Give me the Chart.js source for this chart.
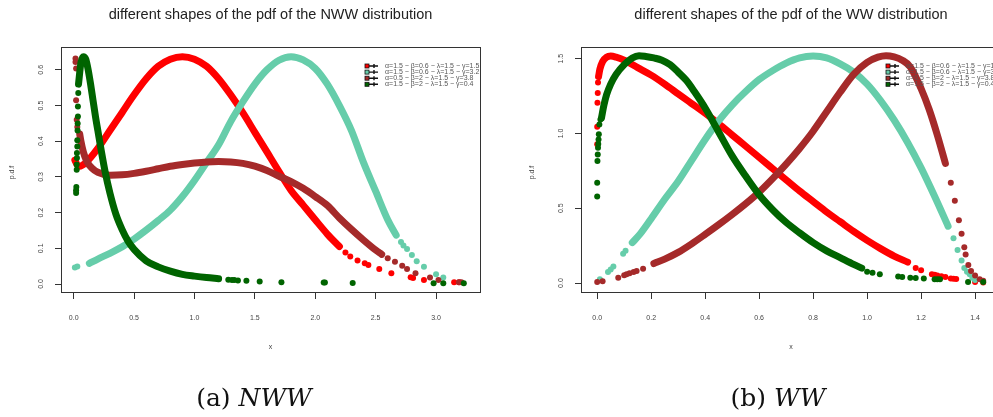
<!DOCTYPE html>
<html>
<head>
<meta charset="utf-8">
<script src="https://cdn.jsdelivr.net/npm/chart.js@4.4.0/dist/chart.umd.min.js"></script>
<style>
  html, body { margin: 0; padding: 0; background: #fff; overflow: hidden; }
  #page { position: relative; width: 993px; height: 417px; overflow: hidden; background: #fff; }
  #nww { position: absolute; left: 0; top: 0; }
  #ww { position: absolute; left: 500px; top: 0; }
  .caption { position: absolute; top: 383px; font-family: "DejaVu Serif", serif; font-size: 25px; color: #111; transform: translateX(-50%); white-space: nowrap; }
</style>
</head>
<body>
<div id="page">
  <canvas id="nww" width="500" height="417"></canvas>
  <canvas id="ww" width="520" height="417"></canvas>
  <div class="caption" style="left:254px">(a) <i>NWW</i></div>
  <div class="caption" style="left:778px">(b) <i>WW</i></div>
</div>
<script>
// series colours, same order as the legend rows
const seriesColors = ['#FF0000', '#66CDAA', '#A52A2A', '#006400'];
const legendLabels = [
  'α=1.5 − β=0.6 − λ=1.5 − γ=1.5',
  'α=1.5 − β=0.6 − λ=1.5 − γ=3.2',
  'α=0.5 − β=2 − λ=1.5 − γ=3.8',
  'α=1.5 − β=2 − λ=1.5 − γ=0.4'
];

// ---- panel (a) NWW ----
const nwwXLabels = ['0.0', '0.5', '1.0', '1.5', '2.0', '2.5', '3.0'];
const nwwYLabels = ['0.0', '0.1', '0.2', '0.3', '0.4', '0.5', '0.6'];

const nwwRedBand = [[0.01,0.347],[0.03,0.333],[0.05,0.330],[0.1,0.340],[0.2,0.380],[0.3,0.430],[0.4,0.480],[0.5,0.530],[0.6,0.575],[0.7,0.610],[0.8,0.630],[0.9,0.637],[1.0,0.630],[1.1,0.610],[1.2,0.575],[1.3,0.530],[1.4,0.480],[1.5,0.425],[1.6,0.370],[1.7,0.315],[1.8,0.262],[1.9,0.221],[2.0,0.180],[2.1,0.140],[2.2,0.105]];
const nwwRedDots = [[2.25,0.088],[2.29,0.077],[2.35,0.066],[2.41,0.058],[2.44,0.053],[2.53,0.042],[2.63,0.030],[2.79,0.019],[2.81,0.017],[2.90,0.011],[3.15,0.005],[3.19,0.005]];

const nwwTealBand = [[0.13,0.058],[0.2,0.070],[0.3,0.086],[0.4,0.104],[0.5,0.126],[0.6,0.151],[0.7,0.178],[0.8,0.207],[0.9,0.245],[1.0,0.290],[1.1,0.340],[1.2,0.390],[1.3,0.455],[1.4,0.510],[1.5,0.560],[1.6,0.600],[1.7,0.627],[1.8,0.637],[1.9,0.628],[2.0,0.604],[2.1,0.560],[2.2,0.500],[2.3,0.430],[2.4,0.340],[2.5,0.260],[2.6,0.180],[2.67,0.137]];
const nwwTealDots = [[0.01,0.046],[0.03,0.049],[2.71,0.118],[2.73,0.108],[2.76,0.098],[2.80,0.081],[2.84,0.064],[2.90,0.048],[3.00,0.027],[3.06,0.018]];

const nwwBrownBand = [[0.05,0.420],[0.06,0.400],[0.08,0.370],[0.11,0.343],[0.15,0.325],[0.2,0.313],[0.3,0.305],[0.4,0.306],[0.5,0.310],[0.6,0.316],[0.7,0.323],[0.8,0.330],[0.9,0.335],[1.0,0.339],[1.1,0.342],[1.2,0.343],[1.3,0.342],[1.4,0.338],[1.5,0.330],[1.6,0.318],[1.7,0.302],[1.8,0.287],[1.9,0.268],[2.0,0.245],[2.1,0.220],[2.2,0.185],[2.3,0.153],[2.4,0.123],[2.5,0.095],[2.55,0.083]];
const nwwBrownDots = [[0.015,0.632],[0.015,0.622],[0.02,0.604],[0.02,0.515],[0.025,0.46],[0.03,0.44],[2.60,0.072],[2.66,0.062],[2.72,0.051],[2.76,0.042],[2.83,0.030],[2.95,0.018],[3.02,0.011],[3.19,0.005],[3.21,0.005]];

const nwwGreenBand = [[0.04,0.560],[0.06,0.620],[0.08,0.637],[0.1,0.630],[0.12,0.600],[0.14,0.560],[0.16,0.515],[0.18,0.470],[0.2,0.430],[0.23,0.370],[0.26,0.315],[0.3,0.255],[0.35,0.195],[0.4,0.153],[0.45,0.120],[0.5,0.097],[0.6,0.065],[0.7,0.048],[0.8,0.036],[0.9,0.027],[1.0,0.022],[1.1,0.018],[1.2,0.015]];
const nwwGreenDots = [[0.02,0.255],[0.02,0.263],[0.022,0.272],[0.025,0.32],[0.025,0.335],[0.027,0.353],[0.027,0.367],[0.03,0.385],[0.03,0.403],[0.032,0.43],[0.033,0.45],[0.035,0.469],[0.035,0.497],[0.038,0.535],[1.28,0.012],[1.31,0.011],[1.33,0.011],[1.36,0.010],[1.43,0.009],[1.54,0.007],[1.72,0.005],[2.07,0.004],[2.08,0.004],[2.31,0.003],[2.98,0.002],[3.06,0.002],[3.23,0.002]];

// ---- panel (b) WW ----
const wwXLabels = ['0.0', '0.2', '0.4', '0.6', '0.8', '1.0', '1.2', '1.4'];
const wwYLabels = ['0.0', '0.5', '1.0', '1.5'];

const wwRedBand = [[0.005,1.38],[0.01,1.43],[0.02,1.48],[0.035,1.51],[0.05,1.517],[0.07,1.51],[0.1,1.49],[0.15,1.44],[0.2,1.39],[0.25,1.33],[0.3,1.265],[0.35,1.20],[0.4,1.135],[0.45,1.065],[0.5,0.99],[0.55,0.915],[0.6,0.84],[0.65,0.765],[0.7,0.69],[0.75,0.615],[0.8,0.545],[0.85,0.475],[0.9,0.41],[0.95,0.345],[1.0,0.285],[1.05,0.23],[1.1,0.18],[1.15,0.14]];
const wwRedDots = [[0.0,0.927],[0.0,1.045],[0.001,1.205],[0.002,1.27],[0.003,1.34],[1.18,0.10],[1.20,0.085],[1.24,0.058],[1.25,0.055],[1.26,0.05],[1.275,0.045],[1.29,0.04],[1.31,0.031],[1.32,0.029],[1.33,0.027],[1.40,0.007],[1.43,0.004]];

const wwTealBand = [[0.13,0.27],[0.16,0.33],[0.2,0.43],[0.25,0.56],[0.3,0.68],[0.35,0.82],[0.4,0.96],[0.45,1.085],[0.5,1.19],[0.55,1.28],[0.6,1.36],[0.65,1.42],[0.7,1.47],[0.75,1.505],[0.8,1.517],[0.85,1.505],[0.9,1.465],[0.95,1.41],[1.0,1.33],[1.05,1.22],[1.1,1.09],[1.15,0.94],[1.2,0.77],[1.25,0.58],[1.3,0.38]];
const wwTealDots = [[0.01,0.025],[0.04,0.074],[0.05,0.09],[0.06,0.11],[0.096,0.196],[0.105,0.215],[1.32,0.30],[1.335,0.22],[1.35,0.15],[1.36,0.10],[1.37,0.075],[1.38,0.058],[1.39,0.035],[1.40,0.02]];

const wwBrownBand = [[0.21,0.13],[0.25,0.16],[0.3,0.205],[0.35,0.262],[0.4,0.325],[0.45,0.39],[0.5,0.458],[0.55,0.53],[0.6,0.608],[0.65,0.698],[0.7,0.795],[0.75,0.900],[0.8,1.015],[0.85,1.145],[0.9,1.275],[0.95,1.395],[1.0,1.475],[1.04,1.510],[1.07,1.52],[1.1,1.512],[1.13,1.49],[1.16,1.445],[1.2,1.30],[1.23,1.16],[1.26,0.99],[1.29,0.80]];
const wwBrownDots = [[0.0,0.007],[0.02,0.012],[0.078,0.036],[0.1,0.052],[0.109,0.058],[0.12,0.065],[0.135,0.073],[0.146,0.08],[0.17,0.096],[1.31,0.67],[1.325,0.55],[1.34,0.42],[1.35,0.33],[1.36,0.24],[1.365,0.19],[1.375,0.12],[1.385,0.08],[1.40,0.05],[1.417,0.025],[1.43,0.015]];

const wwGreenBand = [[0.016,1.105],[0.025,1.19],[0.035,1.26],[0.05,1.33],[0.07,1.395],[0.1,1.46],[0.13,1.505],[0.155,1.52],[0.18,1.515],[0.21,1.505],[0.24,1.49],[0.27,1.46],[0.3,1.41],[0.33,1.355],[0.36,1.28],[0.4,1.17],[0.45,1.01],[0.5,0.85],[0.55,0.715],[0.6,0.59],[0.65,0.49],[0.7,0.405],[0.75,0.335],[0.8,0.27],[0.85,0.215],[0.9,0.17],[0.95,0.125],[0.98,0.10]];
const wwGreenDots = [[0.0,0.578],[0.0,0.671],[0.001,0.816],[0.002,0.86],[0.003,0.905],[0.004,0.93],[0.005,0.96],[0.006,0.994],[0.008,1.06],[0.012,1.094],[1.0,0.075],[1.02,0.068],[1.047,0.058],[1.115,0.043],[1.13,0.041],[1.16,0.036],[1.18,0.033],[1.21,0.03],[1.25,0.025],[1.26,0.025],[1.27,0.025],[1.374,0.007],[1.43,0.007]];

const toXY = pts => pts.map(p => ({ x: p[0], y: p[1] }));

function seriesSets(bands, dots) {
  const sets = [];
  bands.forEach((band, i) => {
    // lower order is drawn on top: green over brown over teal over red
    const order = 4 - i;
    sets.push({
      data: toXY(band), showLine: true, borderColor: seriesColors[i], borderWidth: 7,
      borderCapStyle: 'round', borderJoinStyle: 'round', cubicInterpolationMode: 'monotone',
      pointRadius: 0, order: order
    });
    sets.push({
      data: toXY(dots[i]), showLine: false, pointRadius: 3, pointBorderWidth: 0,
      backgroundColor: seriesColors[i], borderColor: seriesColors[i], order: order
    });
  });
  return sets;
}

const framePlugin = {
  id: 'frame',
  afterDraw(chart, args, opts) {
    const { ctx, chartArea: a } = chart;
    const xs = chart.scales.x, ys = chart.scales.y;
    ctx.save();
    ctx.strokeStyle = '#333';
    ctx.lineWidth = 1;
    ctx.strokeRect(Math.round(a.left) + 0.5, Math.round(a.top) + 0.5, Math.round(a.width), Math.round(a.height));

    const cx = (a.left + a.right) / 2;
    ctx.fillStyle = '#222';
    ctx.textAlign = 'center';
    ctx.textBaseline = 'middle';
    ctx.font = '14.5px "Liberation Sans", Arial, sans-serif';
    ctx.fillText(opts.title, cx, 15);

    ctx.fillStyle = '#444';
    ctx.font = '7px "Liberation Sans", Arial, sans-serif';
    opts.xLabels.forEach(l => ctx.fillText(l, xs.getPixelForValue(parseFloat(l)), a.bottom + 26));
    opts.yLabels.forEach(l => {
      ctx.save();
      ctx.translate(a.left - 20, ys.getPixelForValue(parseFloat(l)));
      ctx.rotate(-Math.PI / 2);
      ctx.fillText(l, 0, 0);
      ctx.restore();
    });
    ctx.fillText('x', cx, a.bottom + 55);
    ctx.save();
    ctx.translate(a.left - 49, (a.top + a.bottom) / 2 + 3);
    ctx.rotate(-Math.PI / 2);
    ctx.fillText('p.d.f', 0, 0);
    ctx.restore();

    // legend, clipped to the plot region
    ctx.beginPath();
    ctx.rect(a.left, a.top, a.width, a.height);
    ctx.clip();
    const lx = a.right - 115;
    legendLabels.forEach((l, i) => {
      const y = 66 + i * 6.1;
      ctx.fillStyle = seriesColors[i];
      ctx.fillRect(lx, y - 2, 4, 4);
      ctx.strokeStyle = '#111';
      ctx.lineWidth = 0.8;
      ctx.strokeRect(lx, y - 2, 4, 4);
      ctx.lineWidth = 1.4;
      ctx.beginPath();
      ctx.moveTo(lx + 4, y); ctx.lineTo(lx + 13, y);
      ctx.moveTo(lx + 9, y - 2); ctx.lineTo(lx + 9, y + 2);
      ctx.stroke();
      ctx.fillStyle = '#555';
      ctx.textAlign = 'left';
      ctx.font = '7px "Liberation Sans", Arial, sans-serif';
      ctx.fillText(l, lx + 20, y);
    });
    ctx.restore();
  }
};

function makeChart(id, opts) {
  const tickVals = labels => labels.map(parseFloat);
  return new Chart(document.getElementById(id), {
    type: 'scatter',
    data: { datasets: seriesSets(opts.bands, opts.dots) },
    options: {
      responsive: false,
      animation: false,
      events: [],
      layout: { padding: { left: 0, right: opts.padRight, top: 47, bottom: 85 } },
      plugins: {
        legend: { display: false },
        tooltip: { enabled: false },
        frame: { title: opts.title, xLabels: opts.xLabels, yLabels: opts.yLabels }
      },
      scales: {
        x: {
          type: 'linear', min: opts.xMin, max: opts.xMax,
          afterFit: s => { s.height = 40; },
          afterBuildTicks: s => { s.ticks = tickVals(opts.xLabels).map(v => ({ value: v })); },
          ticks: { display: false },
          grid: { drawOnChartArea: false, drawTicks: true, tickLength: 7, color: '#333' },
          border: { display: false }
        },
        y: {
          type: 'linear', min: opts.yMin, max: opts.yMax,
          afterFit: s => { s.width = opts.yWidth; },
          afterBuildTicks: s => { s.ticks = tickVals(opts.yLabels).map(v => ({ value: v })); },
          ticks: { display: false },
          grid: { drawOnChartArea: false, drawTicks: true, tickLength: 6, color: '#333' },
          border: { display: false }
        }
      }
    },
    plugins: [framePlugin]
  });
}

makeChart('nww', {
  title: 'different shapes of the pdf of the NWW distribution',
  bands: [nwwRedBand, nwwTealBand, nwwBrownBand, nwwGreenBand],
  dots: [nwwRedDots, nwwTealDots, nwwBrownDots, nwwGreenDots],
  xLabels: nwwXLabels, yLabels: nwwYLabels,
  xMin: -0.105, xMax: 3.364, yMin: -0.0224, yMax: 0.664,
  yWidth: 61, padRight: 20
});

makeChart('ww', {
  title: 'different shapes of the pdf of the WW distribution',
  bands: [wwRedBand, wwTealBand, wwBrownBand, wwGreenBand],
  dots: [wwRedDots, wwTealDots, wwBrownDots, wwGreenDots],
  xLabels: wwXLabels, yLabels: wwYLabels,
  xMin: -0.06, xMax: 1.496, yMin: -0.06, yMax: 1.578,
  yWidth: 81, padRight: 19
});
</script>
</body>
</html>
